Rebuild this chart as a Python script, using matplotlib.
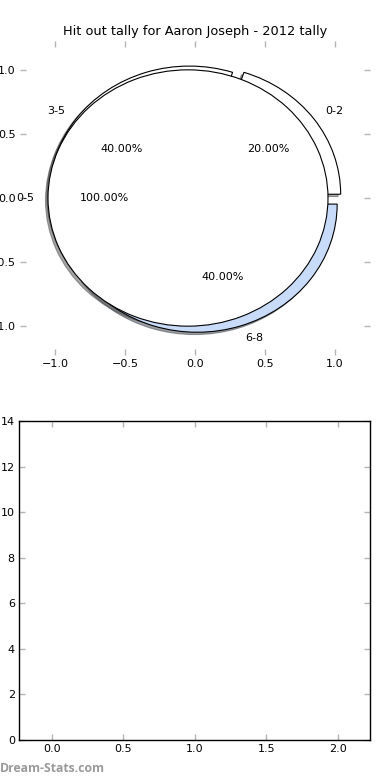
import matplotlib
matplotlib.use("Agg")
import matplotlib.pyplot as plt
import numpy as np

title = "Hit out tally for Aaron Joseph - 2012 tally"

# outer ring: hit outs per game bucket
outer_labels = ["0-2", "3-5", "6-8"]
outer_counts = [1, 2, 2]
outer_colors = ["white", "white", "#c8dcfa"]

# inner pie
inner_labels = ["0-5"]
inner_counts = [5]
inner_colors = ["white"]

pie_ticks = [-1.0, -0.5, 0.0, 0.5, 1.0]
bar_xticks = [0.0, 0.5, 1.0, 1.5, 2.0]
bar_yticks = [0, 2, 4, 6, 8, 10, 12, 14]

tick_grey = "#b4b4b4"

fig = plt.figure(figsize=(3.9, 7.8), dpi=100)

# --- top: nested pie ---
ax1 = fig.add_axes([20 / 390, (780 - 355) / 780, 350 / 390, 314 / 780])
wp = dict(edgecolor="black", linewidth=0.8)
tp = dict(fontsize=8)
shad = {"ox": -0.013, "oy": -0.013}
ax1.pie(outer_counts, labels=outer_labels, colors=outer_colors,
        autopct="%1.2f%%", explode=[0.05] * len(outer_counts),
        shadow=shad, radius=1.0, wedgeprops=wp, textprops=tp)
ax1.pie(inner_counts, labels=inner_labels, colors=inner_colors,
        autopct="%1.2f%%", explode=[0.05] * len(inner_counts),
        shadow=shad, radius=1.0, wedgeprops=wp, textprops=tp)
ax1.set_aspect("auto")
ax1.set_frame_on(False)
ax1.set_xlim(-1.25, 1.25)
ax1.set_ylim(-1.225, 1.225)
ax1.set_xticks(pie_ticks)
ax1.set_yticks(pie_ticks)
ax1.tick_params(direction="in", length=4, width=1, color=tick_grey,
                top=True, right=True, labelsize=8, pad=3)
ax1.set_title(title, fontsize=9.3, pad=4.5)

# --- bottom: empty axes ---
ax2 = fig.add_axes([19 / 390, 40 / 780, 351 / 390, 319 / 780])
ax2.set_xlim(-0.228, 2.225)
ax2.set_ylim(0, 14)
ax2.set_xticks(bar_xticks)
ax2.set_yticks(bar_yticks)
ax2.tick_params(direction="in", length=4, width=1, color=tick_grey,
                top=True, right=True, labelsize=8, pad=3)
for s in ax2.spines.values():
    s.set_linewidth(1)

fig.text(0.0, 11 / 780, "Dream-Stats.com", color="#9a9a9a",
         fontsize=8.8, fontweight="bold", family="Open Sans",
         ha="left", va="center")

fig.savefig("out.png", dpi=100)
